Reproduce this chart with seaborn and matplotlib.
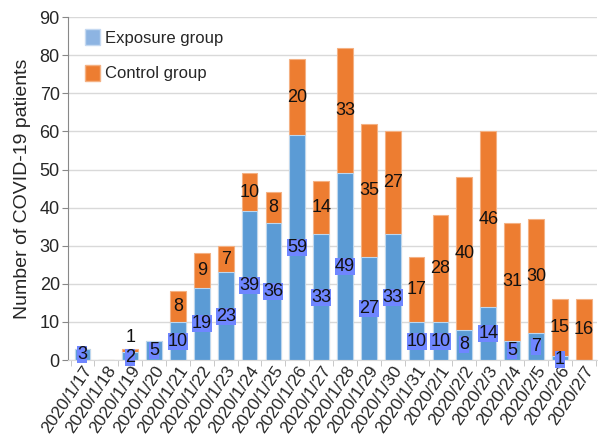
import pandas as pd
import seaborn as sns
import matplotlib.pyplot as plt
from matplotlib.patches import Patch
from matplotlib.ticker import FixedLocator

# Daily case counts
dates = ["2020/1/17", "2020/1/18", "2020/1/19", "2020/1/20", "2020/1/21", "2020/1/22",
         "2020/1/23", "2020/1/24", "2020/1/25", "2020/1/26", "2020/1/27", "2020/1/28",
         "2020/1/29", "2020/1/30", "2020/1/31", "2020/2/1", "2020/2/2", "2020/2/3",
         "2020/2/4", "2020/2/5", "2020/2/6", "2020/2/7"]
exposure = [3, 0, 2, 5, 10, 19, 23, 39, 36, 59, 33, 49, 27, 33, 10, 10, 8, 14, 5, 7, 1, 0]
control = [0, 0, 1, 0, 8, 9, 7, 10, 8, 20, 14, 33, 35, 27, 17, 28, 40, 46, 31, 30, 15, 16]

df = pd.DataFrame({"date": dates, "exposure": exposure, "control": control})
df["total"] = df["exposure"] + df["control"]

sns.set_style("white")
plt.rcParams["font.family"] = ["Liberation Sans", "DejaVu Sans"]

fig = plt.figure(figsize=(5.98, 4.37), dpi=100)
ax = fig.add_axes([0.114, 0.176, 0.884, 0.785])

blue = "#5B9BD5"
orange = "#ED7D31"

sns.barplot(data=df, x="date", y="total", color=orange, saturation=1, width=0.66,
            edgecolor="#F4B183", linewidth=0.8, ax=ax)
sns.barplot(data=df, x="date", y="exposure", color=blue, saturation=1, width=0.66,
            edgecolor="#BDD7EE", linewidth=0.8, ax=ax)

# value labels
for i, (e, c) in enumerate(zip(exposure, control)):
    if e > 0:
        y = e / 2
        if e <= 2:
            y = e / 2 - 0.3
        ax.text(i, y, str(e), ha="center", va="center", fontsize=13, color="#111111",
                bbox=dict(boxstyle="square,pad=0.0", fc="#6F86FF", ec="none"))
    if c > 0:
        if c <= 2:
            y = e + c + 2.8
        else:
            y = e + c / 2
        ax.text(i, y, str(c), ha="center", va="center", fontsize=13, color="#111111")

ax.set_ylim(0, 90)
ax.set_yticks(range(0, 91, 10))
ax.set_xlim(-0.6, len(dates) - 0.45)
ax.yaxis.grid(True, color="#D9D9D9", linewidth=1)
ax.set_axisbelow(True)
for s in ["top", "right"]:
    ax.spines[s].set_visible(False)
ax.spines["left"].set_color("#888888")
ax.spines["bottom"].set_color("#D9D9D9")

# small separators between categories
ax.xaxis.set_minor_locator(FixedLocator([i + 0.5 for i in range(-1, len(dates))]))
ax.tick_params(axis="x", which="minor", length=4, color="#BFBFBF", bottom=True)

ax.set_xlabel("")
ax.set_ylabel("Number of COVID-19 patients", fontsize=14, labelpad=6)
ax.tick_params(axis="y", labelsize=13, length=4, color="#888888", left=True, pad=2)
ax.tick_params(axis="x", which="major", labelsize=12.5, length=0, pad=2)
plt.setp(ax.get_xticklabels(), rotation=56, ha="right", rotation_mode="anchor")

# legend
handles = [Patch(facecolor="#8DB4E2", edgecolor="#C5D9F1", label="Exposure group"),
           Patch(facecolor=orange, edgecolor="#F4B183", label="Control group")]
ax.legend(handles=handles, loc="upper left", bbox_to_anchor=(0.02, 0.985), frameon=False,
          fontsize=12, handlelength=0.85, handleheight=1.1, handletextpad=0.3,
          labelspacing=1.15, borderaxespad=0)

fig.savefig("out.png", dpi=100)
